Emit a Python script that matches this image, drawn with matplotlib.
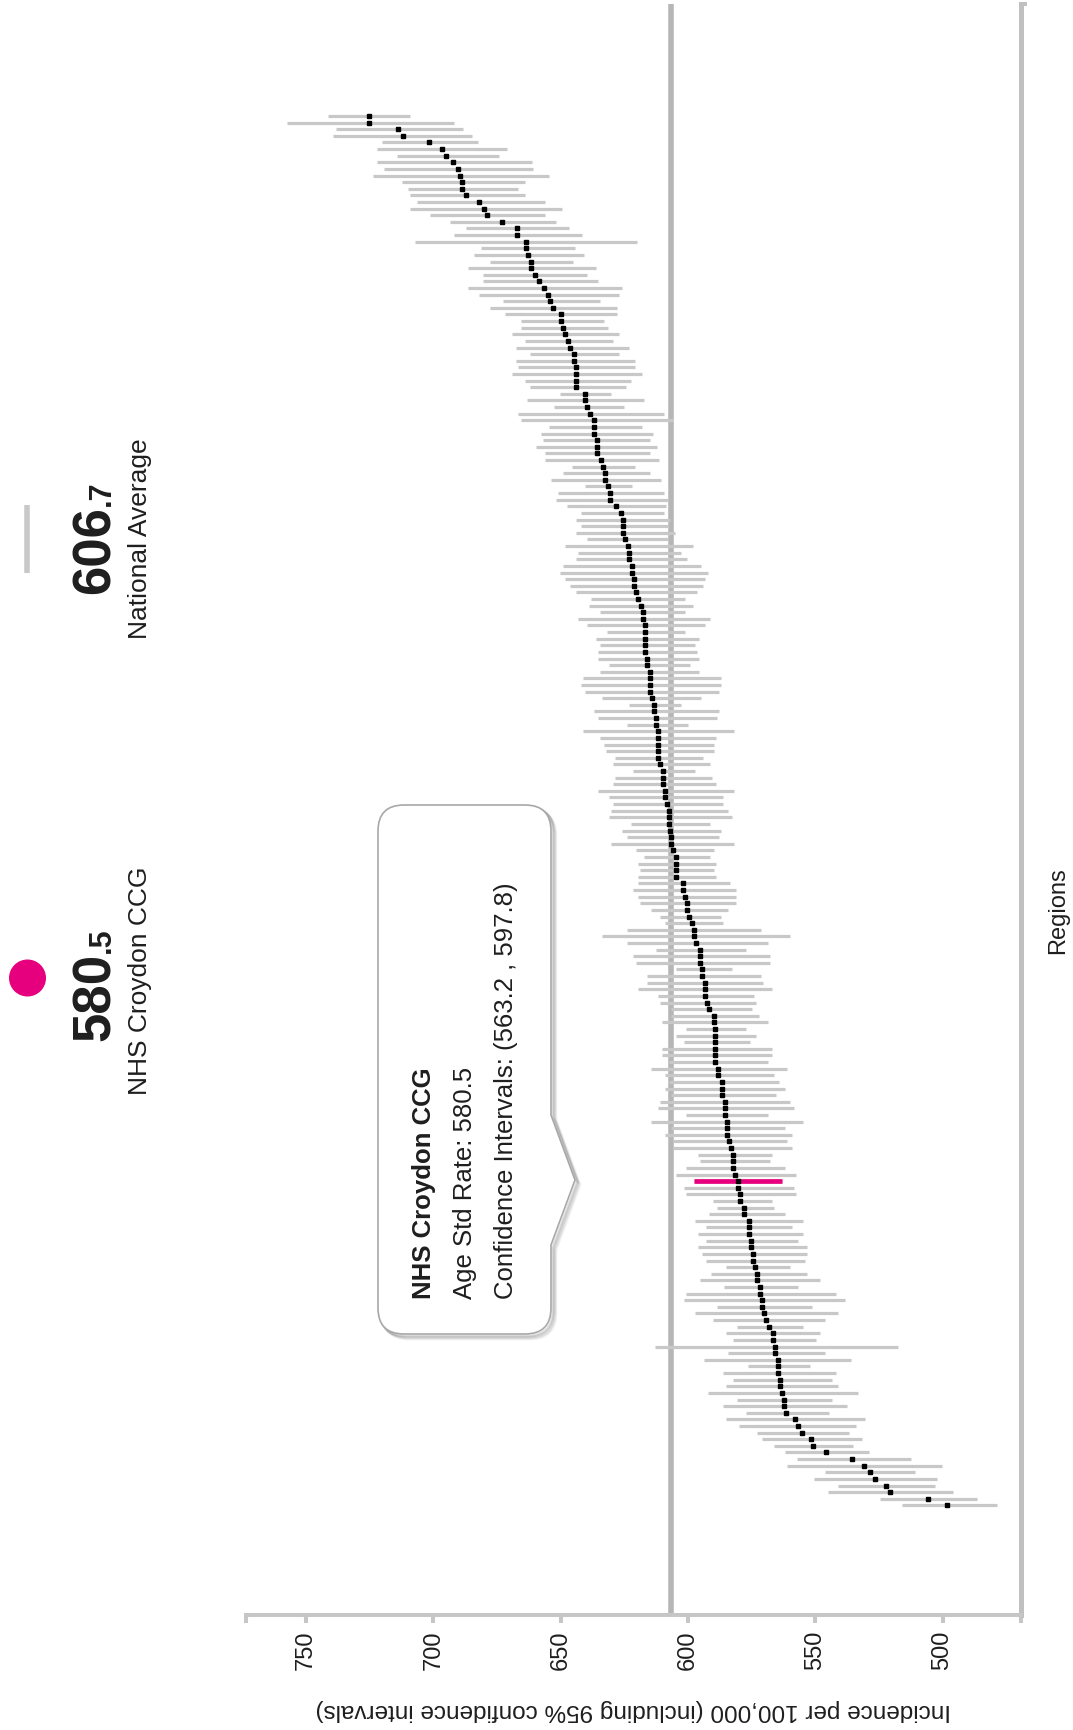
import matplotlib
matplotlib.use("Agg")
import matplotlib.pyplot as plt
import numpy as np
from matplotlib.patches import Circle, PathPatch
from matplotlib.path import Path

plt.rcParams["font.family"] = ["Liberation Sans", "DejaVu Sans"]

W, H = 1073, 1730

# age standardised rate per region (sorted, highest first)
rate = [
    725.1, 725.1, 714.0, 712.0, 701.7, 696.6, 694.9, 692.2, 690.5, 689.6,
    688.8, 688.8, 687.0, 681.9, 680.1, 679.1, 673.2, 667.1, 667.1, 663.7,
    663.7, 662.9, 661.8, 661.8, 660.2, 658.4, 656.7, 655.0, 654.1, 653.2,
    649.8, 649.8, 648.9, 648.1, 647.2, 646.4, 644.7, 644.7, 643.8, 643.8,
    643.8, 643.8, 640.4, 640.4, 639.5, 638.5, 636.8, 636.8, 636.8, 635.9,
    635.9, 635.9, 634.2, 633.4, 632.5, 632.5, 631.6, 630.7, 630.7, 628.2,
    626.4, 625.6, 625.6, 625.6, 624.7, 623.7, 623.0, 623.0, 622.0, 622.0,
    621.3, 621.1, 620.3, 619.6, 618.6, 617.7, 617.7, 616.9, 616.9, 616.9,
    616.9, 616.9, 616.0, 615.9, 615.1, 615.1, 615.1, 615.1, 614.2, 613.4,
    613.4, 612.6, 612.6, 611.7, 611.7, 611.7, 611.7, 611.7, 610.8, 609.9,
    609.9, 609.9, 609.1, 609.1, 608.2, 607.4, 607.4, 607.4, 607.2, 606.5,
    606.5, 605.7, 604.7, 604.7, 604.7, 604.7, 602.1, 602.1, 601.3, 600.4,
    600.4, 599.6, 598.6, 597.8, 597.8, 596.9, 595.2, 595.2, 595.2, 594.3,
    594.3, 593.5, 593.5, 593.5, 592.6, 591.6, 589.9, 589.9, 589.2, 589.2,
    589.2, 589.2, 589.2, 589.2, 588.2, 588.2, 586.5, 586.5, 586.5, 585.6,
    585.6, 585.6, 584.8, 584.8, 584.8, 583.9, 583.0, 582.2, 582.2, 582.2,
    581.4, 580.5, 580.3, 579.7, 579.7, 577.9, 577.9, 576.2, 576.2, 576.2,
    575.3, 575.3, 574.5, 574.5, 573.6, 572.8, 572.8, 571.9, 571.9, 571.0,
    571.0, 570.2, 569.2, 568.3, 566.5, 566.5, 565.7, 565.7, 564.8, 564.8,
    564.8, 563.9, 563.9, 563.1, 562.2, 562.2, 561.4, 557.8, 556.9, 555.2,
    551.8, 550.9, 545.7, 535.4, 531.0, 528.5, 526.7, 522.3, 520.6, 505.8, 498.1,
]

lower = [
    709.3, 692.0, 688.3, 685.0, 682.4, 671.2, 674.4, 661.3, 660.7, 654.5,
    664.2, 666.7, 664.2, 656.3, 649.3, 656.3, 652.0, 646.9, 641.5, 619.9,
    644.4, 640.8, 645.1, 636.3, 639.8, 635.5, 626.1, 626.9, 634.6, 627.7,
    627.7, 632.9, 631.3, 626.9, 629.5, 623.3, 626.9, 620.8, 620.8, 618.2,
    622.5, 624.2, 630.3, 617.3, 625.2, 609.6, 606.0, 618.2, 613.9, 614.8,
    612.2, 614.8, 611.3, 620.8, 614.8, 610.5, 621.8, 609.6, 607.8, 608.7,
    609.3, 607.0, 608.0, 605.1, 608.0, 598.2, 602.6, 600.2, 594.8, 592.2,
    593.2, 594.0, 596.5, 601.0, 598.2, 601.0, 591.3, 593.2, 601.0, 595.7,
    597.4, 596.5, 595.7, 599.2, 595.7, 587.1, 587.1, 587.9, 594.8, 602.6,
    587.9, 588.6, 600.0, 581.8, 588.8, 589.6, 589.6, 594.0, 591.3, 597.4,
    590.5, 588.8, 581.8, 586.3, 586.3, 584.4, 582.7, 591.3, 587.1, 587.9,
    581.8, 589.6, 591.3, 588.8, 589.6, 588.8, 583.5, 581.0, 581.0, 581.0,
    584.4, 587.1, 586.3, 571.2, 560.0, 568.7, 577.4, 567.9, 567.9, 582.6,
    571.2, 570.4, 567.0, 574.0, 573.2, 574.7, 572.1, 568.7, 577.4, 573.2,
    575.7, 567.0, 567.0, 568.7, 561.0, 566.1, 564.4, 561.9, 565.3, 560.1,
    558.2, 568.7, 555.0, 561.9, 559.2, 561.0, 559.2, 567.0, 567.9, 561.9,
    557.5, 563.2, 558.4, 557.5, 567.0, 566.1, 561.9, 555.0, 559.2, 555.0,
    556.7, 553.1, 553.1, 554.2, 560.1, 553.1, 548.0, 556.7, 542.0, 538.3,
    551.4, 541.1, 546.3, 554.8, 548.0, 549.7, 517.6, 546.1, 535.8, 552.1,
    542.0, 543.6, 541.1, 533.1, 543.6, 537.5, 544.5, 530.6, 534.0, 536.6,
    531.5, 535.1, 529.0, 512.4, 500.3, 510.8, 502.0, 503.0, 496.0, 486.3, 478.6,
]

upper = [
    741.2, 757.6, 738.4, 739.3, 720.3, 722.1, 714.1, 722.1, 719.4, 723.8,
    712.4, 710.1, 709.1, 706.4, 709.0, 701.3, 693.3, 687.3, 691.9, 707.3,
    681.1, 684.0, 677.8, 686.5, 680.5, 680.5, 686.5, 682.2, 672.6, 677.8,
    671.8, 665.7, 665.7, 669.2, 664.1, 667.4, 662.2, 667.4, 666.6, 669.2,
    663.9, 662.2, 650.1, 663.2, 652.7, 666.6, 665.7, 654.4, 657.9, 657.1,
    659.6, 656.2, 656.2, 645.7, 649.1, 653.6, 640.5, 651.0, 651.9, 647.4,
    642.1, 644.0, 642.1, 644.0, 639.7, 648.2, 643.0, 644.0, 649.2, 650.1,
    648.2, 646.5, 644.0, 638.0, 638.8, 634.5, 643.1, 639.7, 631.9, 636.2,
    634.5, 635.3, 635.3, 631.1, 634.5, 641.4, 642.1, 640.5, 633.6, 623.2,
    637.1, 635.4, 624.0, 641.4, 634.5, 632.8, 632.0, 628.5, 629.3, 621.5,
    628.5, 629.3, 635.4, 631.1, 629.3, 630.2, 631.1, 622.3, 626.0, 624.0,
    630.2, 620.6, 617.1, 619.8, 618.9, 619.8, 619.8, 621.5, 619.8, 618.9,
    614.6, 610.9, 609.2, 624.0, 633.6, 624.0, 612.7, 621.4, 620.5, 604.7,
    616.1, 616.1, 619.7, 611.9, 611.0, 606.7, 606.7, 610.1, 600.6, 604.7,
    601.5, 610.1, 610.1, 607.5, 614.6, 609.2, 607.5, 609.2, 606.7, 611.0,
    611.8, 600.6, 614.6, 606.7, 609.2, 605.8, 605.8, 596.2, 595.4, 600.6,
    604.7, 597.8, 601.5, 600.6, 590.2, 588.5, 591.9, 597.1, 592.8, 596.2,
    592.8, 596.2, 594.5, 592.8, 585.1, 591.0, 595.4, 586.0, 600.6, 601.5,
    588.5, 597.1, 590.2, 580.8, 585.1, 582.5, 613.0, 584.2, 593.9, 576.4,
    586.1, 582.5, 585.1, 592.0, 580.8, 586.1, 577.2, 585.1, 580.0, 573.0,
    571.1, 566.1, 561.8, 557.3, 561.0, 546.1, 550.4, 541.0, 545.1, 524.4, 515.9,
]

highlight = 161
highlight_name = "NHS Croydon CCG"
national_average = 606.7
x_ticks = [750, 700, 650, 600, 550, 500]
x_label = "Incidence per 100,000 (including 95% confidence intervals)"
y_label = "Regions"

GREY_BAR = "#c8c8c8"
AXIS = "#c6c6c6"
PINK = "#e6007e"
TEXT = "#1e1e1e"


def split_value(v):
    whole, dec = f"{v:.1f}".split(".")
    return whole, "." + dec


fig = plt.figure(figsize=(W / 100, H / 100), dpi=100)

# data area in pixels of the full picture
left_px, right_px, top_px, bottom_px = 245.7, 1020.5, 4.0, 1614.7
ax = fig.add_axes([left_px / W, 1 - bottom_px / H,
                   (right_px - left_px) / W, (bottom_px - top_px) / H])

n = len(rate)
rows = np.arange(1, n + 1)
pitch = 6.616
y_top = 1 - (116 - top_px) / pitch
y_bottom = 1 + (bottom_px - 116) / pitch

ax.hlines(rows, lower, upper, color=GREY_BAR, lw=2.3, zorder=2)
ax.axvline(national_average, color="#b6b6b6", lw=4.0, zorder=1)
ax.hlines(rows[highlight], lower[highlight], upper[highlight], color=PINK, lw=3.4, zorder=3)
ax.plot(rate, rows, ls="none", marker="s", ms=2.9, color="black", zorder=4)

ax.set_xlim(773.7, 469.4)
ax.set_ylim(y_bottom, y_top)

for side in ("top", "left"):
    ax.spines[side].set_visible(False)
ax.spines["bottom"].set_color(AXIS)
ax.spines["bottom"].set_linewidth(2.9)
ax.spines["right"].set_color("#c0c0c0")
ax.spines["right"].set_linewidth(3.6)

ax.set_xticks(x_ticks)
ax.set_xticks([773.7, 469.4], minor=True)
ax.tick_params(axis="x", which="both", direction="out", length=5.8, width=2.9,
               color=AXIS, labelsize=17, labelrotation=90, pad=5.5, labelcolor=TEXT)
ax.yaxis.set_ticks_position("right")
ax.set_yticks([])
ax.set_yticks([y_top], minor=True)
ax.tick_params(axis="y", which="minor", direction="out", length=4.3, width=2.9,
               color="#c0c0c0", labelright=False)

ax.set_xlabel(x_label, fontsize=17.5, rotation=180, labelpad=21, color=TEXT)
ax.yaxis.set_label_position("right")
ax.set_ylabel(y_label, fontsize=17, rotation=90, color=TEXT)
ax.yaxis.set_label_coords((1058 - left_px) / (right_px - left_px),
                          1 - (911 - top_px) / (bottom_px - top_px))
ax.yaxis.label.set_va("center")

# overlay in picture pixels for the legend and the tooltip
ov = fig.add_axes([0, 0, 1, 1], zorder=5)
ov.set_xlim(0, W)
ov.set_ylim(H, 0)
ov.axis("off")
ov.patch.set_alpha(0)

# legend: highlighted region and national average
ov.add_patch(Circle((27.5, 978), 18.5, color=PINK, lw=0))
ov.plot([26.5, 26.5], [505, 573], color=GREY_BAR, lw=4.0, solid_capstyle="butt")

for value, join_y, name, name_y in [
    (rate[highlight], 953, highlight_name, 981),
    (national_average, 506, "National Average", 539),
]:
    whole, dec = split_value(value)
    ov.text(110, join_y, whole, rotation=90, rotation_mode="anchor", ha="right",
            va="baseline", fontsize=38, fontweight="bold", color=TEXT)
    ov.text(110, join_y, dec, rotation=90, rotation_mode="anchor", ha="left",
            va="baseline", fontsize=22, fontweight="bold", color=TEXT)
    ov.text(140, name_y, name, rotation=90, ha="center", va="center",
            fontsize=19, color=TEXT)

# tooltip box with pointer on its right side
L, R, T, B, rad = 378, 551, 805, 1334, 26
p0, tip, p1 = 1115, (575, 1180), 1245


def tooltip_path(dx=0.0, dy=0.0):
    verts = [
        (L + rad, T), (R - rad, T), (R, T), (R, T + rad),
        (R, p0), tip, (R, p1), (R, B - rad),
        (R, B), (R - rad, B), (L + rad, B), (L, B), (L, B - rad),
        (L, T + rad), (L, T), (L + rad, T), (L + rad, T),
    ]
    codes = [
        Path.MOVETO, Path.LINETO, Path.CURVE3, Path.CURVE3,
        Path.LINETO, Path.LINETO, Path.LINETO, Path.LINETO,
        Path.CURVE3, Path.CURVE3, Path.LINETO, Path.CURVE3, Path.CURVE3,
        Path.LINETO, Path.CURVE3, Path.CURVE3, Path.CLOSEPOLY,
    ]
    return Path([(x + dx, y + dy) for x, y in verts], codes)


for off, alpha in [(5, 0.05), (4, 0.07), (3, 0.09), (2, 0.12)]:
    ov.add_patch(PathPatch(tooltip_path(off, off), facecolor="none",
                           edgecolor="#000000", lw=2.0, alpha=alpha))
ov.add_patch(PathPatch(tooltip_path(), facecolor="white", edgecolor="#a8a8a8", lw=1.2))

lo_h, hi_h = lower[highlight], upper[highlight]
tip_lines = [
    (424, highlight_name, "bold"),
    (465, f"Age Std Rate: {rate[highlight]:.1f}", "normal"),
    (506, f"Confidence Intervals: ({lo_h:.1f} , {hi_h:.1f})", "normal"),
]
for x, s, weight in tip_lines:
    ov.text(x, 1299, s, rotation=90, rotation_mode="anchor", ha="left", va="center",
            fontsize=18.5, fontweight=weight, color=TEXT)

fig.savefig("out.png", dpi=100)
